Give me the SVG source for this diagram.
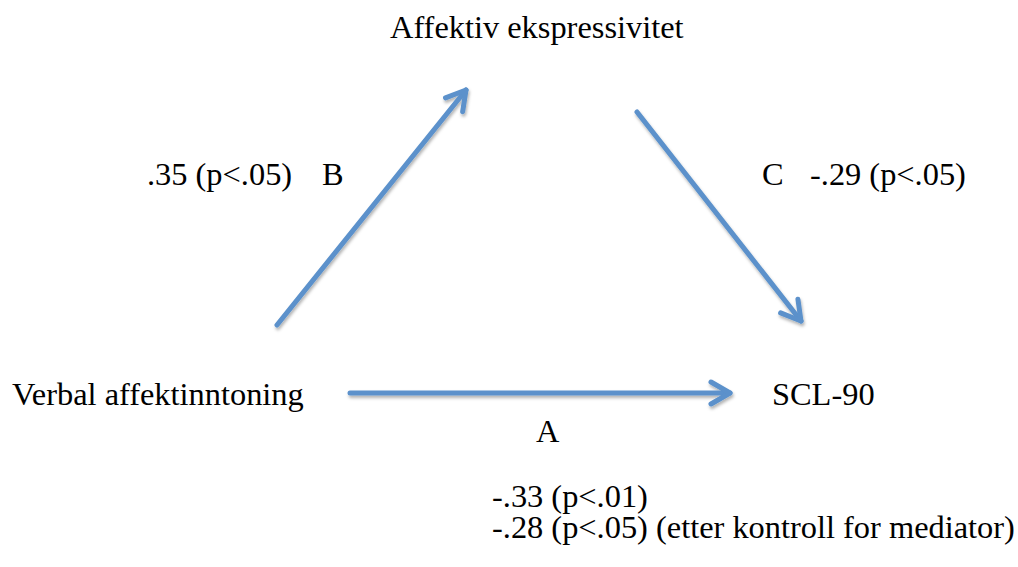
<svg xmlns="http://www.w3.org/2000/svg" width="1018" height="567" viewBox="0 0 1018 567">
  <style>
    text { font-family: "Liberation Serif", "Times New Roman", serif; font-size: 32.4px; fill: #000; }
    .arrow { stroke: #5b91cb; stroke-width: 5; fill: none; stroke-linecap: round; stroke-linejoin: round; }
  </style>
  <defs>
    <filter id="shadow" x="-10%" y="-10%" width="120%" height="130%">
      <feDropShadow dx="1" dy="2.5" stdDeviation="1.5" flood-color="#000" flood-opacity="0.3"/>
    </filter>
    <marker id="head" markerUnits="userSpaceOnUse" markerWidth="40" markerHeight="40" viewBox="-30 -20 40 40" refX="0" refY="0" orient="auto">
      <path d="M -19 -11 L 0 0 L -19 11" stroke="#5b91cb" stroke-width="5" fill="none" stroke-linecap="round" stroke-linejoin="round"/>
    </marker>
  </defs>
  <rect width="1018" height="567" fill="#fff"/>

  <g id="connectors" filter="url(#shadow)">
    <line id="edge-B" class="arrow" x1="277" y1="325" x2="466" y2="90" marker-end="url(#head)"/>
    <line id="edge-C" class="arrow" x1="637" y1="112" x2="801" y2="321" marker-end="url(#head)"/>
    <line id="edge-A" class="arrow" x1="350" y1="393" x2="730" y2="393" marker-end="url(#head)"/>
  </g>

  <g id="node-affektiv">
    <text x="390" y="38">Affektiv ekspressivitet</text>
  </g>
  <g id="node-verbal">
    <text x="12" y="405">Verbal affektinntoning</text>
  </g>
  <g id="node-scl">
    <text x="772" y="405">SCL-90</text>
  </g>

  <g id="labels">
    <text x="147" y="185">.35 (p&lt;.05)</text>
    <text x="322" y="185">B</text>
    <text x="762" y="185">C</text>
    <text x="810" y="185">-.29 (p&lt;.05)</text>
    <text x="536" y="442">A</text>
    <text x="492" y="507">-.33 (p&lt;.01)</text>
    <text x="492" y="538">-.28 (p&lt;.05) (etter kontroll for mediator)</text>
  </g>
</svg>
